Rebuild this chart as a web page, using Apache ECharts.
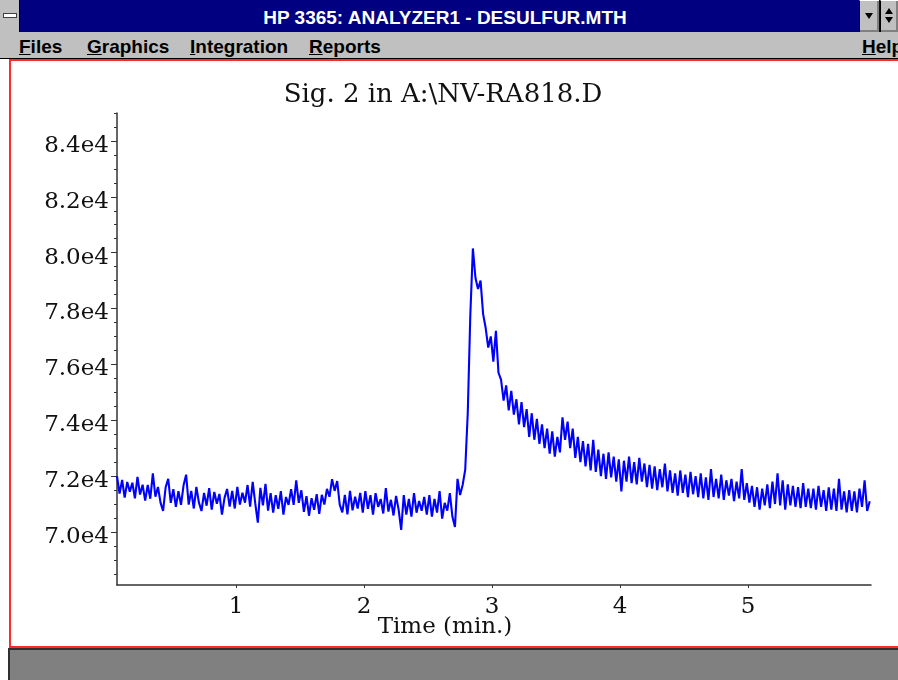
<!DOCTYPE html>
<html lang="en">
<head>
    <meta charset="UTF-8">
    <title>HP 3365: ANALYZER1 - DESULFUR.MTH</title>
    <script src="https://cdn.jsdelivr.net/npm/echarts@6.0.0/dist/echarts.min.js"></script>
    <style>
        body{
            margin:0;
            width:898px;
            height:680px;
            overflow:hidden;
            position:relative;
            background:#fff;
            font-family:"Liberation Sans", Arial, sans-serif;
        }
        #container{
            position:absolute;
            left:0;
            top:0;
            width:898px;
            height:680px;
        }
        .box{ position:absolute; box-sizing:border-box; }
        #titlebar{ left:0; top:0; width:898px; height:32px; background:#000080; }
        #caption{ left:0; top:2px; width:890px; line-height:32px; text-align:center; color:#fff; font-weight:bold; font-size:19px; }
        #sysbox{ left:0; top:0; width:20px; height:32px; background:#c0c0c0; border-right:1px solid #000; }
        #sysbar{ left:3px; top:13px; width:14px; height:5px; background:#fff; border:1px solid #404040; }
        .btn{ top:0; height:32px; background:#c0c0c0; border-left:1px solid #000; border-top:1px solid #fff; box-shadow:inset -2px -2px 0 #808080; }
        #btnmin{ left:859px; width:20px; }
        #btnmax{ left:880px; width:18px; }
        .tri{ position:absolute; width:0; height:0; border-left:4px solid transparent; border-right:4px solid transparent; }
        .down{ border-top:6px solid #000; }
        .up{ border-bottom:6px solid #000; }
        #menubar{ left:0; top:32px; width:898px; height:27px; background:#c0c0c0; border-bottom:1px solid #000; }
        .menu{ position:absolute; top:3px; line-height:24px; font-size:19px; font-weight:bold; color:#000; }
        #redtop{ left:9px; top:59px; width:889px; height:2px; background:#ff2a2a; }
        #redleft{ left:9px; top:59px; width:2px; height:589px; background:#ff2a2a; }
        #redbottom{ left:9px; top:646px; width:889px; height:2px; background:#ff2a2a; }
        #status{ left:8px; top:648px; width:890px; height:32px; background:#808080; border-top:2px solid #303030; border-left:2px solid #303030; }
    </style>
</head>
<body>
<div id="container"></div>

<div class="box" id="titlebar"></div>
<div class="box" id="caption">HP 3365: ANALYZER1 - DESULFUR.MTH</div>
<div class="box" id="sysbox"><div class="box" id="sysbar"></div></div>
<div class="box btn" id="btnmin"><div class="tri down" style="left:5px;top:12px"></div></div>
<div class="box btn" id="btnmax"><div class="tri up" style="left:4px;top:7px"></div><div class="tri down" style="left:4px;top:16px"></div></div>

<div class="box" id="menubar">
    <span class="menu" style="left:19px"><u>F</u>iles</span>
    <span class="menu" style="left:87px"><u>G</u>raphics</span>
    <span class="menu" style="left:190px"><u>I</u>ntegration</span>
    <span class="menu" style="left:309px"><u>R</u>eports</span>
    <span class="menu" style="left:862px"><u>H</u>elp</span>
</div>
<div class="box" id="redtop"></div>
<div class="box" id="redleft"></div>
<div class="box" id="redbottom"></div>
<div class="box" id="status"></div>

<script type="text/javascript">

    // detector samples, one every 0.02 min starting at 0.07 min
    var startTime = 0.07;
    var step = 0.02;

    var signal = [
        // baseline 0.07 - 2.71
        72000, 71370, 71860, 71230, 71790, 71440,
        71760, 71200, 71970, 71340, 71690,
        71120, 71680, 71190, 72100, 71260, 71610, 71050, 70750,
        71600, 71900, 71040, 71530, 70900, 71460, 70970, 71670,
        72050, 70980, 71470, 70840, 71610, 71050, 70750, 71400,
        70940, 71570, 70800, 71430, 71010, 71360, 70620, 71220,
        71540, 70910, 71470, 70840, 71610, 70980, 71400, 71050, 71680, 70910,
        71790, 71020, 70330, 71580, 70950, 71720,
        70760, 71390, 70690, 71320, 70830, 71460, 70620, 71250, 70970,
        71530, 70970, 71850, 71040,
        71490, 70720, 71280, 70580, 71210, 70790, 71350, 70650,
        71330, 70980, 71540, 71260, 71890, 71470, 71820, 70980,
        70700, 71330, 70630, 71470, 70770, 71260, 70840, 71400,
        70690, 71460, 70830, 71320, 70620, 71390, 70900, 71180,
        70660, 71570, 70730, 71150, 70590, 71290, 70800, 70070,
        71320, 70620, 71180, 70550, 71390, 70690, 71110, 70760,
        71250, 70620, 71320, 70550, 71180, 70690, 71460, 70480, 71040, 70760, 71390, 70550, 70180,
        // rise
        71900, 71320, 71680, 72220, 74260, 77770, 80150,
        // top of peak
        79100, 78700, 79000, 77800, 77300, 76600, 77000, 76100, 77200, 75700,
        // tail
        75450, 74700, 75250, 74350, 75050, 74200, 74750, 73850, 74650, 73750,
        74400, 73400, 74250, 73300, 74050, 73150, 73850, 73000, 73700, 72800,
        73600, 72700, 73400, 72850,
        74100, 73300, 73950, 73000, 73700, 72650, 73400, 72500, 73250, 72350,
        73150, 72200, 73300, 72150, 72950, 72000, 72800,
        71900, 72850, 71950, 72700, 71800, 72600, 71450, 72550, 71800, 72700,
        71750, 72500, 71700, 72650, 71800, 72450,
        71600, 72400, 71550, 72350, 71500, 72250, 71600, 72450, 71450, 72200,
        71400, 72100, 71300, 72200, 71400, 72050, 71250, 72150, 71350, 72000, 71250,
        72100, 71200, 71950, 71150, 72250, 71250, 71900, 71200, 72050, 71150,
        71850, 71300, 71900, 71100, 71800, 71200, 72250, 71150, 71750, 71050,
        71650, 70900, 71600, 70800, 71550, 70950, 71700, 70850,
        71800, 71000, 72100, 70950, 71850, 70800, 71700, 70950,
        71650, 70900, 71600, 70850, 71750, 70900, 71550,
        70850, 71550, 70800, 71650, 70900, 71500, 70750, 71600,
        70800, 71550, 70750, 71900, 70800, 71450, 70700, 71500,
        70750, 71450, 70700, 71550, 70900, 71850, 70750, 71100
    ];

    var timeTicks = [1, 2, 3, 4, 5];
    var yLabels = [70000, 72000, 74000, 76000, 78000, 80000, 82000, 84000];
    var yMinor = [68500, 69000, 69500, 70500, 71000, 71500, 72500, 73000, 73500,
        74500, 75000, 75500, 76500, 77000, 77500, 78500, 79000, 79500,
        80500, 81000, 81500, 82500, 83000, 83500, 84500, 85000];

    var points = [];
    for (var i = 0; i < signal.length; i++) {
        points.push([+(startTime + i * step).toFixed(3), signal[i]]);
    }

    var serif = 'DejaVu Serif';
    var myChart = echarts.init(document.getElementById('container'));
    myChart.setOption({
        animation: false,
        backgroundColor: '#fff',
        title: {
            text: 'Sig. 2 in A:\\NV-RA818.D',
            left: 443,
            top: 82,
            textAlign: 'center',
            padding: 0,
            textStyle: {fontFamily: serif, fontSize: 26, fontWeight: 'normal', color: '#111'}
        },
        grid: {left: 117, right: 27, top: 113, bottom: 95, outerBoundsMode: 'none'},
        xAxis: {
            type: 'value',
            min: 0.07,
            max: 5.96,
            name: 'Time (min.)',
            nameLocation: 'middle',
            nameGap: 31,
            nameMoveOverlap: false,
            nameTextStyle: {fontFamily: serif, fontSize: 23, color: '#111', padding: [0, 98, 0, 0]},
            axisLine: {lineStyle: {color: '#333', width: 1.5}},
            axisTick: {customValues: timeTicks, length: 3, lineStyle: {color: '#333'}},
            axisLabel: {customValues: timeTicks, margin: 11, fontFamily: serif, fontSize: 23, color: '#111'},
            splitLine: {show: false}
        },
        yAxis: [
            {
                type: 'value',
                min: 68100,
                max: 85000,
                axisLine: {show: true, lineStyle: {color: '#333', width: 1.5}},
                axisTick: {show: true, customValues: yLabels, length: 6, lineStyle: {color: '#333'}},
                axisLabel: {
                    customValues: yLabels,
                    margin: 8,
                    verticalAlign: 'top',
                    lineHeight: 10,
                    fontFamily: serif,
                    fontSize: 23,
                    color: '#111',
                    formatter: function (v) { return (v / 10000).toFixed(1) + 'e4'; }
                },
                splitLine: {show: false}
            },
            {
                type: 'value',
                min: 68100,
                max: 85000,
                position: 'left',
                axisLine: {show: false},
                axisTick: {show: true, customValues: yMinor, length: 3, lineStyle: {color: '#333'}},
                axisLabel: {show: false},
                splitLine: {show: false}
            }
        ],
        series: [{
            type: 'line',
            data: points,
            showSymbol: false,
            lineStyle: {color: '#0000ff', width: 2.1},
            emphasis: {disabled: true}
        }]
    });
</script>
</body>
</html>
